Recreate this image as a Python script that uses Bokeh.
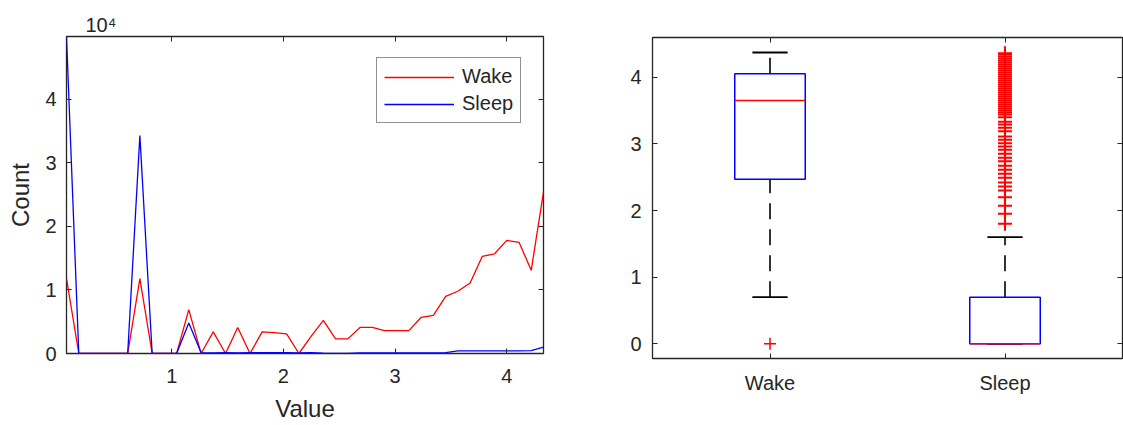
from bokeh.plotting import figure
from bokeh.models import Range1d, LinearAxis, FixedTicker
from bokeh.layouts import row
from bokeh.embed import file_html
from bokeh.resources import INLINE

# ---------------- data: histogram counts ----------------
bin_centers = [0.058, 0.168, 0.277, 0.387, 0.496, 0.606, 0.715, 0.825, 0.934, 1.044,
               1.153, 1.263, 1.372, 1.482, 1.591, 1.701, 1.810, 1.920, 2.029, 2.139,
               2.248, 2.358, 2.467, 2.577, 2.686, 2.796, 2.905, 3.015, 3.124, 3.234,
               3.343, 3.453, 3.562, 3.672, 3.781, 3.891, 4.000, 4.110, 4.219, 4.329]
wake_counts = [11800, 0, 0, 0, 0, 0, 11800, 0, 0, 0,
               6900, 0, 3400, 0, 4100, 0, 3400, 3300, 3100, 0,
               2700, 5200, 2300, 2300, 4100, 4100, 3600, 3600, 3600, 5700,
               6000, 9000, 9800, 11100, 15300, 15700, 17800, 17500, 13100, 25400]
sleep_counts = [49900, 0, 0, 0, 0, 0, 34300, 0, 0, 0,
                4800, 150, 100, 150, 100, 150, 150, 150, 150, 100,
                150, 50, 0, 0, 100, 100, 100, 100, 100, 100,
                100, 150, 400, 400, 400, 400, 400, 400, 450, 1000]
x_ticks = [1, 2, 3, 4]
y_ticks = [0, 10000, 20000, 30000, 40000]
y_tick_labels = ["0", "1", "2", "3", "4"]
y_exponent_label = "10\u2074"

# ---------------- data: box plot ----------------
groups = ["Wake", "Sleep"]
positions = [1, 2]
q1 = [2.47, 0.0]
medians = [3.65, 0.0]
q3 = [4.05, 0.70]
lower_whisker = [0.70, 0.0]
upper_whisker = [4.37, 1.60]
wake_outliers = [0.0]
sleep_outliers = [1.80, 1.95, 2.07, 2.20, 2.30, 2.36, 2.42, 2.49, 2.55, 2.61,
                  2.67, 2.74, 2.79, 2.85, 2.91, 2.96, 3.01, 3.06, 3.11, 3.19,
                  3.24, 3.29, 3.33, 3.40, 3.44, 3.47, 3.50, 3.53, 3.56, 3.59,
                  3.62, 3.65, 3.68, 3.71, 3.74, 3.77, 3.80, 3.83, 3.86, 3.89,
                  3.92, 3.95, 3.98, 4.01, 4.04, 4.07, 4.10, 4.13, 4.16, 4.19,
                  4.22, 4.25, 4.28, 4.31, 4.34, 4.36]
box_y_ticks = [0, 1, 2, 3, 4]

FONT = "Liberation Sans"
TXT = "#262626"
RED = "#FF0000"
BLUE = "#0000FF"


def style_axis(ax, ticks, show_labels=True, standoff=10):
    ax.ticker = FixedTicker(ticks=ticks)
    ax.major_tick_in = 5
    ax.major_tick_out = 0
    ax.major_tick_line_color = TXT
    ax.major_tick_line_width = 1
    ax.minor_tick_line_color = None
    ax.axis_line_color = None
    ax.major_label_text_font = FONT
    if show_labels:
        ax.major_label_text_color = TXT
        ax.major_label_text_font_size = "20px"
        ax.major_label_standoff = standoff
    else:
        ax.major_label_text_color = None
        ax.major_label_text_font_size = "0px"
        ax.major_label_standoff = 0
    ax.axis_label_text_font = FONT
    ax.axis_label_text_font_style = "normal"
    ax.axis_label_text_color = TXT
    ax.axis_label_text_font_size = "24px"


# ---------------- left: histogram lines ----------------
p1 = figure(width=600, height=425, output_backend="svg", toolbar_location=None,
            x_range=Range1d(min(bin_centers), max(bin_centers)),
            y_range=Range1d(0, max(sleep_counts)),
            min_border_left=66, min_border_right=57, min_border_top=36, min_border_bottom=72)
p1.frame_align = False
p1.xgrid.visible = False
p1.ygrid.visible = False
p1.outline_line_color = TXT
p1.outline_line_width = 1.3
p1.background_fill_color = "white"
p1.border_fill_color = "white"

p1.title.text = y_exponent_label
p1.title.align = "left"
p1.title.offset = 19
p1.title.standoff = 2
p1.title.text_font = FONT
p1.title.text_font_style = "normal"
p1.title.text_font_size = "20px"
p1.title.text_color = TXT

style_axis(p1.xaxis[0], x_ticks, standoff=15)
style_axis(p1.yaxis[0], y_ticks, standoff=10)
p1.yaxis[0].major_label_overrides = {t: l for t, l in zip(y_ticks, y_tick_labels)}
p1.xaxis[0].axis_label = "Value"
p1.xaxis[0].axis_label_standoff = 9
p1.yaxis[0].axis_label = "Count"
p1.yaxis[0].axis_label_standoff = 8

ax_r = LinearAxis()
style_axis(ax_r, y_ticks, show_labels=False)
p1.add_layout(ax_r, "right")
ax_t = LinearAxis()
style_axis(ax_t, x_ticks, show_labels=False)
p1.add_layout(ax_t, "above")

p1.line(bin_centers, wake_counts, line_color=RED, line_width=1.3, legend_label="Wake")
p1.line(bin_centers, sleep_counts, line_color=BLUE, line_width=1.3, legend_label="Sleep")

lg = p1.legend[0]
lg.location = (310, 230)
lg.border_line_color = TXT
lg.border_line_width = 1.3
lg.background_fill_color = "white"
lg.background_fill_alpha = 1
lg.padding = 7
lg.margin = 0
lg.spacing = 4
lg.glyph_width = 70
lg.glyph_height = 20
lg.label_height = 20
lg.label_standoff = 8
lg.label_text_font = FONT
lg.label_text_font_size = "20px"
lg.label_text_color = TXT

# ---------------- right: box plot ----------------
p2 = figure(width=523, height=425, output_backend="svg", toolbar_location=None,
            x_range=Range1d(0.5, 2.5), y_range=Range1d(-0.22, 4.595),
            min_border_left=52, min_border_right=1, min_border_top=37, min_border_bottom=67)
p2.frame_align = False
p2.xgrid.visible = False
p2.ygrid.visible = False
p2.outline_line_color = TXT
p2.outline_line_width = 1.3
p2.background_fill_color = "white"
p2.border_fill_color = "white"

style_axis(p2.xaxis[0], positions, standoff=13)
p2.xaxis[0].major_label_overrides = {p: g for p, g in zip(positions, groups)}
style_axis(p2.yaxis[0], box_y_ticks, standoff=11)
ax_r2 = LinearAxis()
style_axis(ax_r2, box_y_ticks, show_labels=False)
p2.add_layout(ax_r2, "right")
ax_t2 = LinearAxis()
style_axis(ax_t2, positions, show_labels=False)
p2.add_layout(ax_t2, "above")

half_box = 0.15
half_cap = 0.075
# whiskers (drawn from lower value to higher value)
p2.segment(x0=positions, y0=lower_whisker, x1=positions, y1=q1,
           line_color="black", line_width=1.6, line_dash="16 10")
p2.segment(x0=positions, y0=q3, x1=positions, y1=upper_whisker,
           line_color="black", line_width=1.6, line_dash="16 10")
# caps
p2.segment(x0=[p - half_cap for p in positions], y0=lower_whisker,
           x1=[p + half_cap for p in positions], y1=lower_whisker,
           line_color="black", line_width=1.8)
p2.segment(x0=[p - half_cap for p in positions], y0=upper_whisker,
           x1=[p + half_cap for p in positions], y1=upper_whisker,
           line_color="black", line_width=1.8)
# boxes
p2.quad(left=[p - half_box for p in positions], right=[p + half_box for p in positions],
        bottom=q1, top=q3, fill_color=None, line_color=BLUE, line_width=1.5)
# medians
p2.segment(x0=[p - half_box for p in positions], y0=medians,
           x1=[p + half_box for p in positions], y1=medians,
           line_color=RED, line_width=1.5)
# outliers
p2.scatter(x=[positions[0]] * len(wake_outliers), y=wake_outliers, marker="cross",
           size=12, line_color=RED, line_width=1.5)
p2.scatter(x=[positions[1]] * len(sleep_outliers), y=sleep_outliers, marker="cross",
           size=14, line_color=RED, line_width=2)

layout = row(p1, p2)
open("out.html", "w").write(file_html(layout, INLINE))
